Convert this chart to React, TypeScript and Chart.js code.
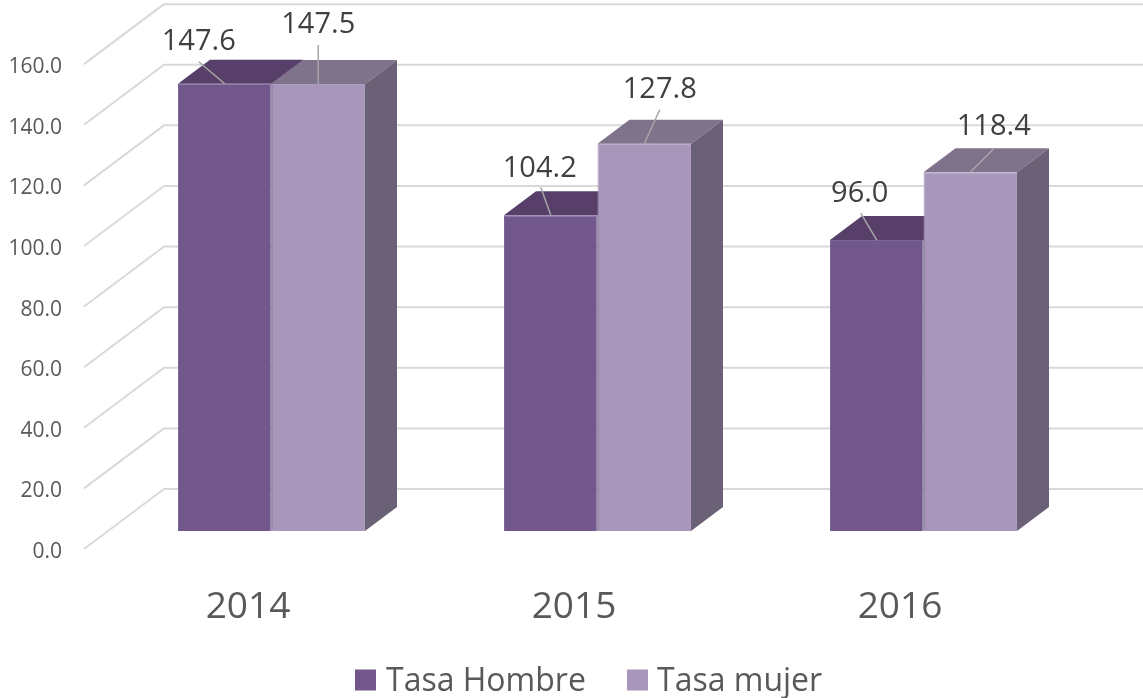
import React, { useEffect, useRef } from "react";
import { Chart, registerables } from "chart.js";

Chart.register(...registerables);

const categories = ["2014", "2015", "2016"];
const seriesNames = ["Tasa Hombre", "Tasa mujer"];
const tasaHombre = [147.6, 104.2, 96.0];
const tasaMujer = [147.5, 127.8, 118.4];
const gridValues = [0, 20, 40, 60, 80, 100, 120, 140, 160];

const FONT = '"Open Sans", sans-serif';
const FRONT = ["#72578c", "#a897bb"];
const TOP = ["#573f6a", "#7f738c"];
const SIDE = ["#574f68", "#6a6177"];
const DEPTH_BAR = { x: 32, y: -24 };
const DEPTH_WALL = { x: 80, y: -60 };
const WALL_LEFT = 84;
const WALL_SHIFT = -3;

// label centre and leader start, relative to the top-centre of each bar
const labelOffsets = [
  [[-26, -42, -26, -22], [-11, -47, -10, -28], [-17, -46, -16, -27]],
  [[0, -59, 0, -39], [15.5, -54, 15.5, -34], [23.5, -45, 24, -24]],
];

const legendLayout = { boxLefts: [355, 627], textLefts: [386, 657], centre: 680, box: 21, textShift: 1.5 };

const depthPlugin = {
  id: "depth",
  beforeDatasetsDraw(chart: any) {
    const { ctx } = chart;
    const y = chart.scales.y;
    const right = chart.width;
    ctx.save();
    ctx.strokeStyle = "#d9d9d9";
    ctx.lineWidth = 2;
    ctx.lineJoin = "round";
    gridValues.forEach((v) => {
      const px = y.getPixelForValue(v) + WALL_SHIFT;
      ctx.beginPath();
      ctx.moveTo(WALL_LEFT, px);
      ctx.lineTo(WALL_LEFT + DEPTH_WALL.x, px + DEPTH_WALL.y);
      ctx.lineTo(right, px + DEPTH_WALL.y);
      ctx.stroke();
    });
    [0, 1].forEach((d) => {
      chart.getDatasetMeta(d).data.forEach((bar: any) => {
        const half = bar.width / 2;
        const l = bar.x - half;
        const r = bar.x + half;
        const t = bar.y;
        const b = bar.base;
        ctx.fillStyle = TOP[d];
        ctx.beginPath();
        ctx.moveTo(l, t);
        ctx.lineTo(l + DEPTH_BAR.x, t + DEPTH_BAR.y);
        ctx.lineTo(r + DEPTH_BAR.x, t + DEPTH_BAR.y);
        ctx.lineTo(r, t);
        ctx.closePath();
        ctx.fill();
        ctx.fillStyle = SIDE[d];
        ctx.beginPath();
        ctx.moveTo(r, t);
        ctx.lineTo(r + DEPTH_BAR.x, t + DEPTH_BAR.y);
        ctx.lineTo(r + DEPTH_BAR.x, b + DEPTH_BAR.y);
        ctx.lineTo(r, b);
        ctx.closePath();
        ctx.fill();
      });
    });
    ctx.restore();
  },
  afterDatasetsDraw(chart: any) {
    const { ctx } = chart;
    ctx.save();
    ctx.font = `29px ${FONT}`;
    ctx.textAlign = "center";
    ctx.textBaseline = "middle";
    [0, 1].forEach((d) => {
      chart.getDatasetMeta(d).data.forEach((bar: any, i: number) => {
        const [lx, ly, sx, sy] = labelOffsets[d][i];
        ctx.strokeStyle = "#a6a6a6";
        ctx.lineWidth = 1.5;
        ctx.beginPath();
        ctx.moveTo(bar.x + sx, bar.y + sy);
        ctx.lineTo(bar.x, bar.y);
        ctx.stroke();
        ctx.fillStyle = "#404040";
        const value = chart.data.datasets[d].data[i] as number;
        ctx.fillText(value.toFixed(1), bar.x + lx, bar.y + ly);
      });
    });
    // legend
    ctx.font = `32px ${FONT}`;
    ctx.textAlign = "left";
    chart.data.datasets.forEach((ds: any, d: number) => {
      ctx.fillStyle = ds.backgroundColor;
      ctx.fillRect(legendLayout.boxLefts[d], legendLayout.centre - legendLayout.box / 2, legendLayout.box, legendLayout.box);
      ctx.fillStyle = "#595959";
      ctx.fillText(ds.label, legendLayout.textLefts[d], legendLayout.centre + legendLayout.textShift);
    });
    ctx.restore();
  },
};

export default function App() {
  const ref = useRef<HTMLCanvasElement>(null);
  useEffect(() => {
    const chart = new Chart(ref.current!, {
      type: "bar",
      data: {
        labels: categories,
        datasets: [
          { label: seriesNames[0], data: tasaHombre, backgroundColor: FRONT[0], borderColor: "#7d6598", borderWidth: 1, yAxisID: "bars" },
          { label: seriesNames[1], data: tasaMujer, backgroundColor: FRONT[1], borderColor: "#ad9ec0", borderWidth: 1, yAxisID: "bars" },
        ],
      },
      options: {
        responsive: false,
        animation: false,
        layout: { padding: { top: 3.6, right: 56.5, left: 0, bottom: 0 } },
        datasets: { bar: { categoryPercentage: 0.5736, barPercentage: 1 } },
        scales: {
          x: {
            grid: { display: false, drawTicks: false },
            border: { display: false },
            ticks: { color: "#595959", font: { family: FONT, size: 37 }, padding: 33, labelOffset: -23.5, maxRotation: 0 },
            afterFit(s: any) { s.height = 146; },
          },
          y: {
            position: "left",
            min: 0,
            max: 178,
            grid: { display: true, drawOnChartArea: false, drawTicks: true, tickLength: 46.5, color: "rgba(0,0,0,0)" },
            border: { display: false },
            ticks: {
              stepSize: 20,
              color: "#595959",
              font: { family: FONT, size: 21 },
              padding: 0,
              callback: (v: any) => (v > 160 ? null : Number(v).toFixed(1)),
            },
            afterFit(s: any) { s.width = 108.5; },
          },
          bars: { display: false, min: -6.93, max: 171.07 },
        },
        plugins: {
          tooltip: { enabled: false },
          legend: { display: false },
        },
      },
      plugins: [depthPlugin],
    } as any);
    return () => chart.destroy();
  }, []);
  return <canvas ref={ref} width={1143} height={698} style={{ position: "absolute", left: 0, top: 0 }} />;
}
